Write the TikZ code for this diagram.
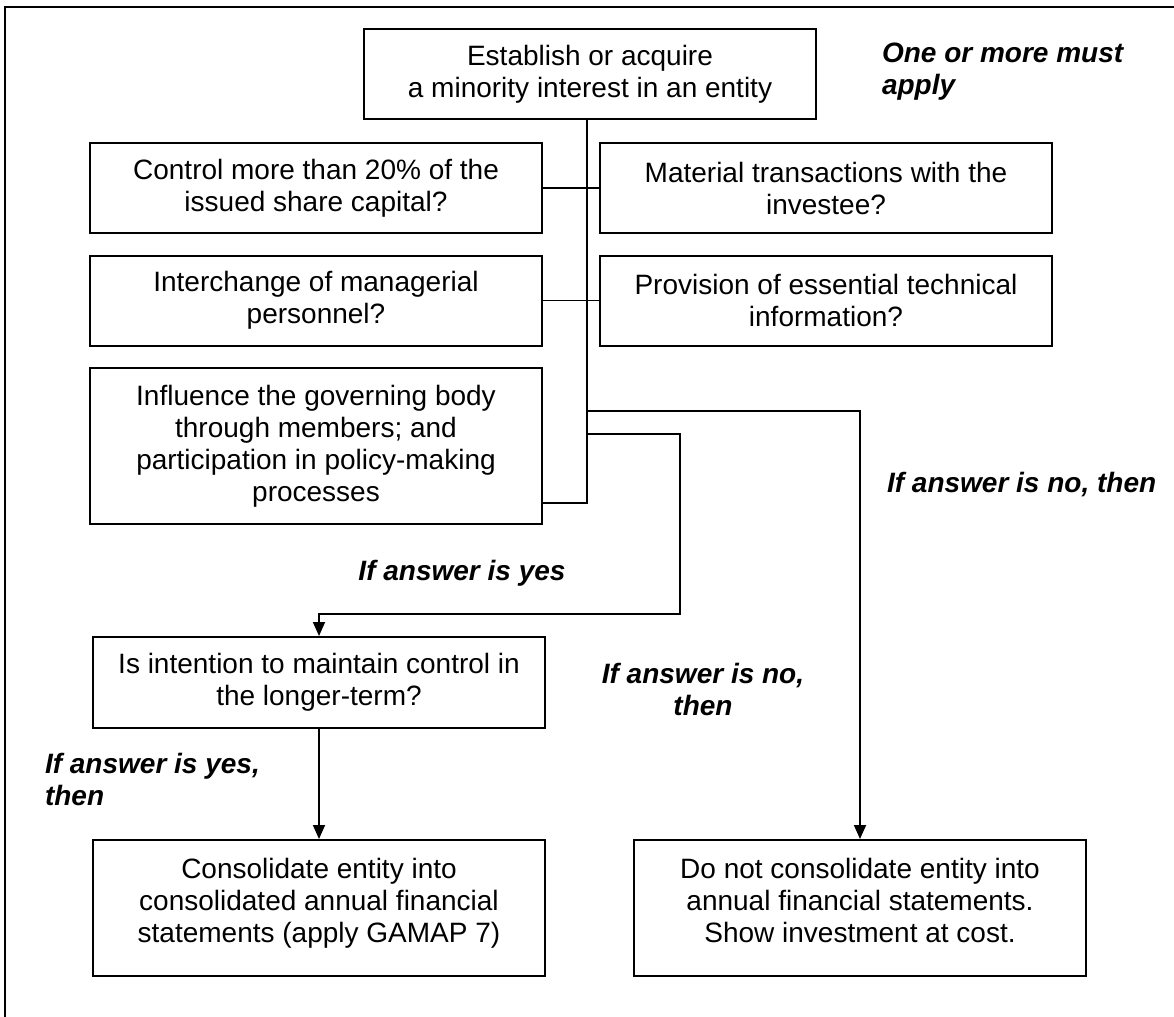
\documentclass[tikz,border=0pt]{standalone}
\usepackage{fontspec}
\setmainfont{Liberation Sans}
\usetikzlibrary{arrows.meta}

\tikzset{
  box/.style={draw, line width=1pt, align=center, minimum width=226pt,
    minimum height=45pt, inner sep=0pt, font=\fontsize{14}{16}\selectfont},
  note/.style={font=\fontsize{14}{16}\selectfont\bfseries\itshape},
  conn/.style={line width=0.9pt},
  arr/.style={line width=0.9pt, -{Triangle[length=7pt,width=6pt]}}
}

\begin{document}
\begin{tikzpicture}[x=0.5pt,y=-0.5pt]
	\useasboundingbox (0,0) rectangle (1174,1017);
	\draw[line width=1pt] (5,1017) -- (5,7) -- (1174,7);
	% boxes
	\node[box] (estab) at (590,74) {Establish or acquire\\a minority interest in an entity};
	\node[box] (control) at (316,188) {Control more than 20\% of the\\issued share capital?};
	\node[box] (material) at (826,188) {Material transactions with the\\investee?};
	\node[box] (interchange) at (316,300.5) {Interchange of managerial\\personnel?};
	\node[box] (provision) at (826,300.5) {Provision of essential technical\\information?};
	\node[box, minimum height=78pt] (influence) at (316,446) {Influence the governing body\\through members; and\\participation in policy-making\\processes};
	\node[box, minimum height=45.5pt] (intent) at (319,682.5) {Is intention to maintain control in\\the longer-term?};
	\node[box, minimum height=68pt] (consol) at (319,908) {Consolidate entity into\\consolidated annual financial\\statements (apply GAMAP 7)\\[-8pt]};
	\node[box, minimum height=68pt] (noconsol) at (860,908) {Do not consolidate entity into\\annual financial statements.\\Show investment at cost.\\[-8pt]};
	% notes
	\node[note, align=left, anchor=west] (must) at (875,72) {One or more must\\apply};
	\node[note] (yes) at (462,573) {If answer is yes};
	\node[note, anchor=west] (no) at (880,485) {If answer is no, then};
	\node[note, align=center] (nothen) at (703,689) {If answer is no,\\then};
	\node[note, align=left, anchor=west] (yesthen) at (38,779) {If answer is yes,\\then};
	% spine
	\coordinate (spinebot) at (587,503);
	\coordinate (jno) at (587,411);
	\coordinate (jyes) at (587,434);
	\coordinate (byes) at (680,614);
	\draw[conn] (estab.south -| spinebot) -- (spinebot) -- (influence.east |- spinebot);
	\draw[conn] (control.east) -- (material.west);
	\draw[conn] (interchange.east) -- (provision.west);
	\draw[arr] (jno) -| (noconsol.north);
	\draw[arr] (jyes) -| (byes) -| (intent.north);
	\draw[arr] (intent.south) -- (consol.north);
\end{tikzpicture}
\end{document}
